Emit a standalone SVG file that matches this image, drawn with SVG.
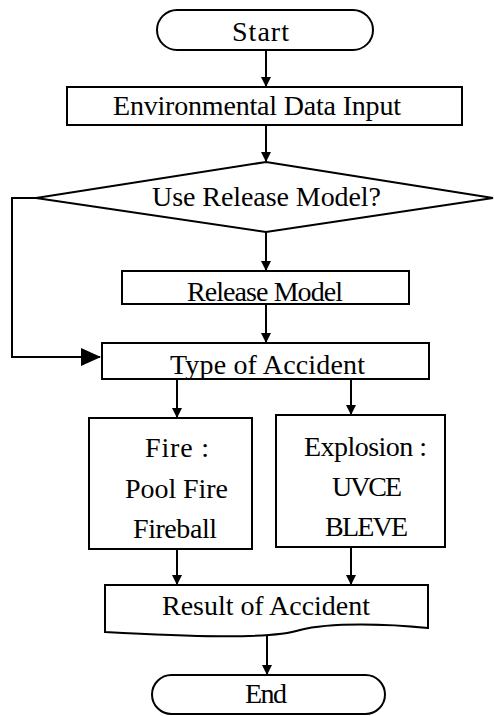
<svg xmlns="http://www.w3.org/2000/svg" width="494" height="716" viewBox="0 0 494 716">
<defs>
<style>
.s{fill:#fff;stroke:#000;stroke-width:2}
.t{font-family:"Liberation Serif","Times New Roman",serif;font-size:28px;fill:#000}
.c{fill:none;stroke:#000;stroke-width:2}
</style>
<marker id="a" markerWidth="10" markerHeight="10" refX="9" refY="5" orient="auto" markerUnits="userSpaceOnUse">
<path d="M0,0 L10,5 L0,10 Z" fill="#000"/>
</marker>
<marker id="b" markerWidth="20" markerHeight="18" refX="19" refY="9" orient="auto" markerUnits="userSpaceOnUse">
<path d="M0,0 L20,9 L0,18 Z" fill="#000"/>
</marker>
</defs>
<rect width="494" height="716" fill="#fff"/>
<g id="connectors">
<line class="c" x1="266" y1="50" x2="266" y2="86" marker-end="url(#a)"/>
<line class="c" x1="266" y1="125" x2="266" y2="161" marker-end="url(#a)"/>
<line class="c" x1="266" y1="232" x2="266" y2="270" marker-end="url(#a)"/>
<line class="c" x1="266" y1="304" x2="266" y2="342" marker-end="url(#a)"/>
<polyline class="c" points="36,198 12,198 12,357 100,357" marker-end="url(#b)"/>
<line class="c" x1="177" y1="379" x2="177" y2="417" marker-end="url(#a)"/>
<line class="c" x1="351" y1="379" x2="351" y2="414" marker-end="url(#a)"/>
<line class="c" x1="177" y1="549" x2="177" y2="584" marker-end="url(#a)"/>
<line class="c" x1="351" y1="547" x2="351" y2="584" marker-end="url(#a)"/>
<line class="c" x1="267" y1="635" x2="267" y2="674" marker-end="url(#a)"/>
</g>
<g id="start">
<rect class="s" x="157" y="10" width="216" height="40" rx="20"/>
<text class="t" x="232" y="41" textLength="57">Start</text>
</g>
<g id="env">
<rect class="s" x="67" y="87" width="395" height="38"/>
<text class="t" x="113" y="115" textLength="288">Environmental Data Input</text>
</g>
<g id="decision">
<polygon class="s" points="266,162 493,198 266,232 36,198"/>
<text class="t" x="152" y="206" textLength="229">Use Release Model?</text>
</g>
<g id="release">
<rect class="s" x="122" y="271" width="287" height="33"/>
<text class="t" x="187" y="301" textLength="156">Release Model</text>
</g>
<g id="type">
<rect class="s" x="102" y="343" width="327" height="36"/>
<text class="t" x="170" y="374" textLength="195">Type of Accident</text>
</g>
<g id="fire">
<rect class="s" x="89" y="418" width="163" height="131"/>
<text class="t" x="145" y="457" textLength="64">Fire :</text>
<text class="t" x="125" y="498" textLength="103">Pool Fire</text>
<text class="t" x="133" y="538" textLength="84">Fireball</text>
</g>
<g id="explosion">
<rect class="s" x="276" y="415" width="169" height="132"/>
<text class="t" x="304" y="456" textLength="123">Explosion :</text>
<text class="t" x="332" y="496" textLength="70">UVCE</text>
<text class="t" x="325" y="536" textLength="83">BLEVE</text>
</g>
<g id="result">
<path class="s" d="M105,585 H428 V628 C390,624 330,622 300,630 C270,640 180,636 105,632 Z"/>
<text class="t" x="162" y="615" textLength="208">Result of Accident</text>
</g>
<g id="end">
<rect class="s" x="152" y="675" width="233" height="39" rx="19.5"/>
<text class="t" x="245" y="703" textLength="42">End</text>
</g>
</svg>
